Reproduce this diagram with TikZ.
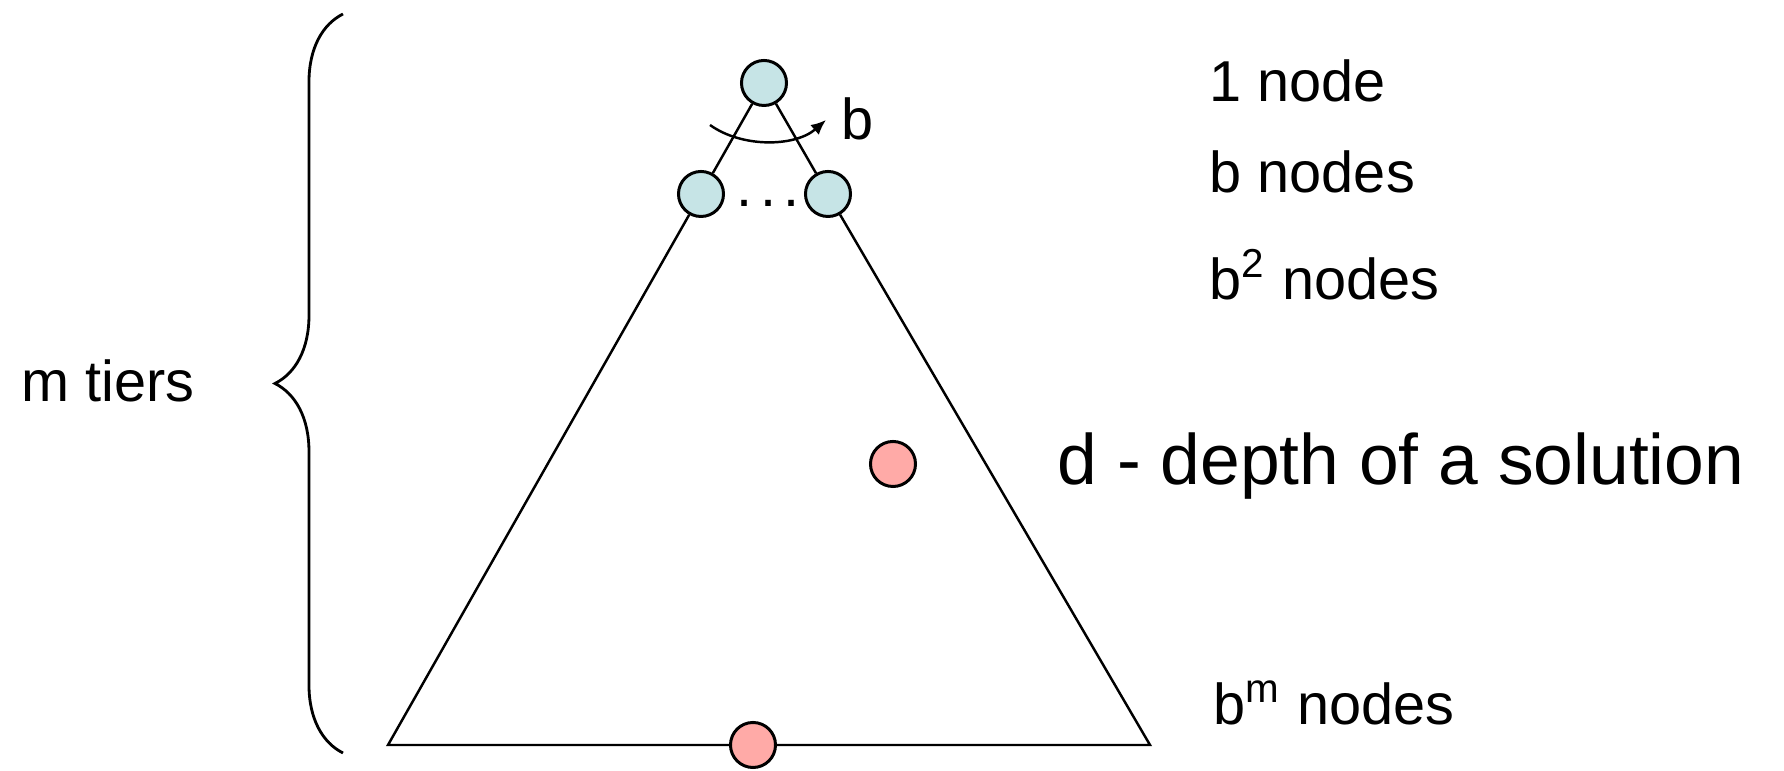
\documentclass[tikz,border=0pt]{standalone}
\usepackage{fontspec}
\setmainfont{Liberation Sans}
\usepackage{tikz}
\usetikzlibrary{arrows.meta,positioning,decorations.pathreplacing}
\definecolor{tier}{HTML}{C6E4E6}
\definecolor{goal}{HTML}{FFAAA7}
\tikzset{
  st/.style={circle, draw, line width=0.85pt, fill=#1, minimum size=0.45cm, inner sep=0pt},
  st/.default=tier,
  lbl/.style={font=\fontsize{16.4}{20}\selectfont, inner sep=0pt, anchor=base west},
  big/.style={font=\fontsize{20.3}{24}\selectfont, inner sep=0pt, anchor=base west},
  edge/.style={line width=0.7pt},
}

\begin{document}
\begin{tikzpicture}[x=0.01cm, y=-0.01cm]
  \useasboundingbox (0,0) rectangle (1784,771);

  % tree outline
  \coordinate (bl) at (388,745);
  \coordinate (br) at (1150,745);
  \node[st] (root) at (764,83) {};
  \node[st] (c1) at (701,194) {};
  \node[st] (c2) at (828,194) {};
  \node[st=goal] (leaf) at (753,745) {};
  \node[st=goal] (sol) at (893,464) {};
  \draw[edge] (root) -- (c1) -- (bl) -- (leaf) -- (br) -- (c2) -- (root);
  \node[inner sep=0pt, anchor=base, font=\fontsize{16.4}{20}\selectfont] (dots) at (768,207) {.\kern0.13em.\kern0.13em.};

  % branching factor
  \coordinate (a1) at (710,125);
  \coordinate (a2) at (826,120);
  \draw[edge, -{Latex[length=1.5mm, width=1.3mm]}] (a1) .. controls (742,148) and (795,147) .. (a2);
  \node[lbl] (bf) at (841,140) {b};

  % tier counts
  \node[lbl] (n0) at (1209,102) {1 node};
  \node[lbl] (n1) at (1209,193) {b nodes};
  \node[lbl] (n2) at (1209,300) {b\textsuperscript{2} nodes};
  \node[lbl] (nm) at (1213,725) {b\textsuperscript{m} nodes};
  \node[big] (dl) at (1057,485) {d - depth of a solution};

  % depth brace
  \coordinate (bb) at (343,753);
  \coordinate (bt) at (343,14);
  \draw[line width=0.8pt, decorate, decoration={brace, amplitude=0.68cm}] (bb) -- (bt);
  \node[lbl] (mt) at (21,402) {m tiers};
\end{tikzpicture}
\end{document}
